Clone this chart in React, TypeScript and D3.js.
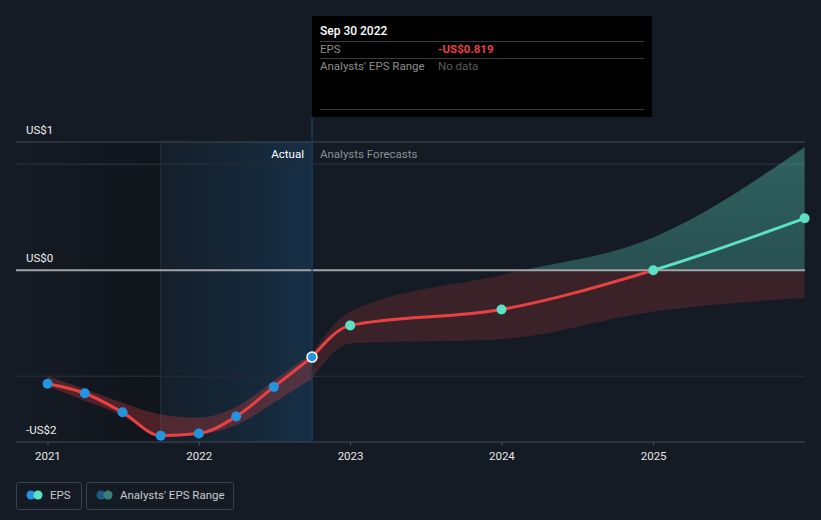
import React from "react";
import * as d3 from "d3";

const actualDates = ["2020-12-31", "2021-03-31", "2021-06-30", "2021-09-30", "2021-12-31", "2022-03-31", "2022-06-30", "2022-09-30"];
const actualEps = [-1.07, -1.16, -1.34, -1.56, -1.54, -1.38, -1.1, -0.819];
const actualLow = [-1.09, -1.23, -1.37, -1.57, -1.55, -1.46, -1.25, -1.02];
const actualHigh = [-1.0, -1.12, -1.25, -1.36, -1.39, -1.29, -1.04, -0.78];

const forecastDates = ["2022-09-30", "2022-12-31", "2023-12-31", "2024-12-31", "2025-12-31"];
const forecastEps = [-0.819, -0.52, -0.37, 0.0, 0.49];
const forecastLow = [-1.02, -0.69, -0.65, -0.39, -0.26];
const forecastHigh = [-0.78, -0.39, -0.045, 0.31, 1.16];

const yearTicks = ["2021", "2022", "2023", "2024", "2025"];
const yLabels = [
  { v: 1.21, t: "US$1" },
  { v: 0, t: "US$0" },
  { v: -1.62, t: "-US$2" },
];

const W = 821, H = 520;
const L = 16, R = 805, T = 142, B = 442;
const parse = d3.timeParse("%Y-%m-%d");

export default function App() {
  const x = d3.scaleTime().domain([parse("2020-10-16")!, parse("2026-01-01")!]).range([L, R]);
  const y = d3.scaleLinear().domain([-1.62, 1.21]).range([B, T]);
  const aD = actualDates.map((d) => parse(d)!);
  const fD = forecastDates.map((d) => parse(d)!);
  const nowX = x(parse("2022-09-30")!);
  const bandStart = x(parse("2021-09-30")!);
  const y0 = y(0);

  const histArea = d3
    .area<number>()
    .x((i) => x(aD[i]))
    .y0((i) => y(actualLow[i]))
    .y1((i) => y(actualHigh[i]))
    .curve(d3.curveMonotoneX)(aD.map((_, i) => i));
  const foreArea = d3
    .area<number>()
    .x((i) => x(fD[i]))
    .y0((i) => y(forecastLow[i]))
    .y1((i) => y(forecastHigh[i]))
    .curve(d3.curveMonotoneX)(fD.map((_, i) => i));
  const histLine = d3
    .line<number>()
    .x((i) => x(aD[i]))
    .y((i) => y(actualEps[i]))
    .curve(d3.curveMonotoneX)(aD.map((_, i) => i));
  const foreLine = d3
    .line<number>()
    .x((i) => x(fD[i]))
    .y((i) => y(forecastEps[i]))
    .curve(d3.curveMonotoneX)(fD.map((_, i) => i));

  const font = "Roboto, 'Open Sans', sans-serif";
  const red = "#e84142";
  const teal = "#5ce0c6";
  const blue = "#2394df";

  return (
    <svg width={W} height={H} style={{ position: "absolute", left: 0, top: 0, background: "#151b24" }} fontFamily={font}>
      <defs>
        <linearGradient id="leftShade" x1="0" x2="1" y1="0" y2="0">
          <stop offset="0" stopColor="#000" stopOpacity="0" />
          <stop offset="1" stopColor="#000" stopOpacity="0.22" />
        </linearGradient>
        <linearGradient id="blueShade" x1="0" x2="1" y1="0" y2="0">
          <stop offset="0" stopColor="#1a5a8c" stopOpacity="0.06" />
          <stop offset="1" stopColor="#1a6aa8" stopOpacity="0.26" />
        </linearGradient>
        <linearGradient id="tealShade" x1="0" x2="0" y1="0" y2="1">
          <stop offset="0" stopColor={teal} stopOpacity="0.36" />
          <stop offset="1" stopColor={teal} stopOpacity="0.2" />
        </linearGradient>
        <clipPath id="above">
          <rect x={0} y={0} width={W} height={y0} />
        </clipPath>
        <clipPath id="below">
          <rect x={0} y={y0} width={W} height={H - y0} />
        </clipPath>
        <clipPath id="plot">
          <rect x={L} y={T} width={R - L} height={B - T} />
        </clipPath>
      </defs>
      <rect x={0} y={0} width={W} height={H} fill="#151b24" />
      <rect x={L} y={T} width={bandStart - L} height={B - T} fill="url(#leftShade)" />
      <rect x={bandStart} y={T} width={nowX - bandStart} height={B - T} fill="url(#blueShade)" />
      <line x1={bandStart} x2={bandStart} y1={T} y2={B} stroke="#26303c" strokeWidth={1} />

      {/* grid */}
      <line x1={L} x2={R} y1={y(1)} y2={y(1)} stroke="#222934" strokeWidth={2} />
      <line x1={L} x2={R} y1={y(-1)} y2={y(-1)} stroke="#222934" strokeWidth={1.5} />
      <line x1={L} x2={R} y1={T} y2={T} stroke="#444a55" strokeWidth={1} />
      <line x1={L} x2={R} y1={B} y2={B} stroke="#444a55" strokeWidth={1} />
      {yearTicks.map((t) => {
        const xx = x(parse(`${t}-01-01`)!);
        return (
          <g key={t}>
            <line x1={xx} x2={xx} y1={B} y2={B + 4} stroke="#444a55" />
            <text x={xx} y={460} textAnchor="middle" fill="#e6e6e6" fontSize={11.5}>
              {t}
            </text>
          </g>
        );
      })}

      {/* bands */}
      <path d={histArea!} fill={red} fillOpacity={0.28} />
      <g clipPath="url(#plot)">
        <path d={foreArea!} fill={red} fillOpacity={0.18} clipPath="url(#below)" />
        <path d={foreArea!} fill="url(#tealShade)" clipPath="url(#above)" />
      </g>

      {/* zero line */}
      <line x1={L} x2={R} y1={y0} y2={y0} stroke="#a0a3a8" strokeWidth={2} />

      {/* now line */}
      <line x1={nowX} x2={nowX} y1={117} y2={B} stroke="#1c3b58" strokeWidth={1.5} />

      {/* lines */}
      <path d={histLine!} fill="none" stroke={red} strokeWidth={3} />
      <g clipPath="url(#plot)">
        <path d={foreLine!} fill="none" stroke={red} strokeWidth={3} clipPath="url(#below)" />
        <path d={foreLine!} fill="none" stroke={teal} strokeWidth={3} clipPath="url(#above)" />
      </g>

      {/* points */}
      {aD.map((d, i) => (
        <circle
          key={i}
          cx={x(d)}
          cy={y(actualEps[i])}
          r={5}
          fill={blue}
          stroke={i === aD.length - 1 ? "#fff" : "none"}
          strokeWidth={1.5}
        />
      ))}
      {fD.slice(1).map((d, i) => (
        <circle key={i} cx={x(d)} cy={y(forecastEps[i + 1])} r={5} fill={teal} />
      ))}

      {/* y labels */}
      {yLabels.map((l) => (
        <text key={l.t} x={26} y={y(l.v) - 8} fill="#eeeeee" fontSize={11.5}>
          {l.t}
        </text>
      ))}

      <text x={304} y={158} textAnchor="end" fill="#ffffff" fontSize={11.5}>
        Actual
      </text>
      <text x={320} y={158} fill="#8a8f96" fontSize={11.5}>
        Analysts Forecasts
      </text>

      {/* tooltip */}
      <rect x={312} y={16} width={340} height={101} fill="#000" />
      <text x={320} y={35} fill="#fff" fontSize={12} fontWeight={500}>
        Sep 30 2022
      </text>
      <line x1={320} x2={644} y1={41.5} y2={41.5} stroke="#3a3a3a" />
      <text x={320} y={53} fill="#8c8c8c" fontSize={11.5}>
        EPS
      </text>
      <text x={438} y={53} fill={red} fontSize={11.5} fontWeight={700}>
        -US$0.819
      </text>
      <line x1={320} x2={644} y1={58.5} y2={58.5} stroke="#3a3a3a" />
      <text x={320} y={70} fill="#8c8c8c" fontSize={11.5}>
        Analysts' EPS Range
      </text>
      <text x={438} y={70} fill="#5a5a5a" fontSize={11.5}>
        No data
      </text>
      <line x1={320} x2={644} y1={109.5} y2={109.5} stroke="#3a3a3a" />

      {/* legend */}
      <rect x={16.5} y={482.5} width={65} height={27} rx={2} fill="none" stroke="#3b414b" />
      <circle cx={31} cy={495} r={4.5} fill={blue} />
      <circle cx={38} cy={495} r={4.5} fill={teal} />
      <text x={50} y={499} fill="#c8cacd" fontSize={11.5}>
        EPS
      </text>
      <rect x={86.5} y={482.5} width={147} height={27} rx={2} fill="none" stroke="#3b414b" />
      <circle cx={101} cy={495} r={4.5} fill="#1f5a85" />
      <circle cx={108} cy={495} r={4.5} fill="#3a807a" />
      <text x={120} y={499} fill="#c8cacd" fontSize={11.5}>
        Analysts' EPS Range
      </text>
    </svg>
  );
}
